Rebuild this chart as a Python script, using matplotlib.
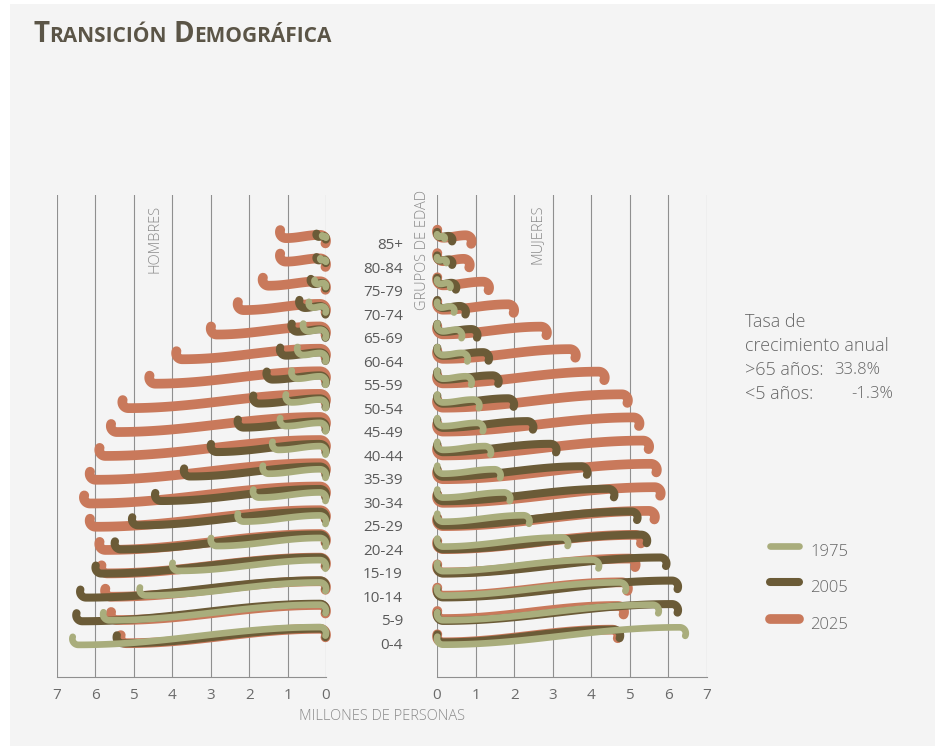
import numpy as np
import matplotlib
matplotlib.use("Agg")
import matplotlib.pyplot as plt
from matplotlib.patches import Rectangle
from matplotlib.lines import Line2D
import matplotlib.transforms as mtrans

plt.rcParams['font.family'] = ['Open Sans', 'DejaVu Sans']

# age groups, bottom (0-4) to top (85+)
ages = ['0-4', '5-9', '10-14', '15-19', '20-24', '25-29', '30-34', '35-39', '40-44',
        '45-49', '50-54', '55-59', '60-64', '65-69', '70-74', '75-79', '80-84', '85+']
years = ['1975', '2005', '2025']

# millions of people
men_1975 = [6.6, 5.8, 4.85, 4.0, 3.0, 2.3, 1.9, 1.65, 1.4, 1.2, 1.05, 0.9, 0.75, 0.6, 0.45, 0.3, 0.15, 0.1]
men_2005 = [5.45, 6.5, 6.4, 6.0, 5.5, 5.05, 4.45, 3.7, 3.0, 2.3, 1.9, 1.55, 1.2, 0.9, 0.7, 0.4, 0.25, 0.25]
men_2025 = [5.35, 5.6, 5.75, 5.85, 5.9, 6.15, 6.3, 6.15, 5.9, 5.6, 5.3, 4.6, 3.9, 3.0, 2.3, 1.65, 1.2, 1.2]

women_1975 = [6.45, 5.75, 4.9, 4.2, 3.4, 2.4, 1.9, 1.65, 1.4, 1.2, 1.1, 0.9, 0.8, 0.65, 0.45, 0.35, 0.25, 0.2]
women_2005 = [4.75, 6.25, 6.25, 5.95, 5.45, 5.2, 4.6, 3.9, 3.1, 2.5, 2.0, 1.6, 1.35, 1.05, 0.75, 0.5, 0.4, 0.4]
women_2025 = [4.7, 4.85, 4.95, 5.15, 5.3, 5.65, 5.8, 5.7, 5.5, 5.25, 4.95, 4.35, 3.6, 2.85, 2.0, 1.35, 0.85, 0.9]

colors = {'1975': '#a9ad7c', '2005': '#6b5b37', '2025': '#c9795b'}
widths = {'1975': 4.8, '2005': 5.8, '2025': 7.0}

W, H = 941, 754
fig = plt.figure(figsize=(W / 100, H / 100), dpi=100)
fig.patch.set_facecolor('white')
fig.patches.append(Rectangle((10 / W, 8 / H), 925 / W, 742 / H, transform=fig.transFigure,
                             facecolor='#f4f4f4', edgecolor='none', zorder=-5))

def px_box(x0, x1, y_top, y_bot):
    return [x0 / W, 1 - y_bot / H, (x1 - x0) / W, (y_bot - y_top) / H]

y_top, y_bot = 195, 677
row0, row_px = 636, 23.5          # pixel row of 0-4 and spacing between groups
ylim = ((row0 - y_bot) / row_px, (row0 - y_top) / row_px)

ax_m = fig.add_axes(px_box(57, 326, y_top, y_bot))
ax_w = fig.add_axes(px_box(437, 707, y_top, y_bot))

for ax in (ax_m, ax_w):
    ax.set_facecolor('none')
    ax.set_ylim(*ylim)
    for s in ('top', 'left', 'right'):
        ax.spines[s].set_visible(False)
    ax.spines['bottom'].set_color('#8f8f8f')
    ax.spines['bottom'].set_linewidth(0.8)
    ax.set_yticks([])
    ax.set_xticks(range(8))
    ax.set_xticklabels([str(i) for i in range(8)])
    ax.tick_params(axis='x', length=0, pad=8, labelsize=11, labelcolor='#6a6a6a')
    for i in range(8):
        ax.axvline(i, color='#8f8f8f', lw=0.8, zorder=1)

ax_m.set_xlim(7, 0)
ax_w.set_xlim(0, 7)


def swoosh(L, r=6.0, rise=0.07):
    # tilde-like stroke in pixels: hook up at the left end, hook down at the right end
    r = min(r, L / 4)
    h = rise * L
    a1 = np.radians(np.linspace(160, 270, 14))
    u1 = r + r * np.cos(a1)
    w1 = r + r * np.sin(a1)
    t = np.linspace(0, 1, 80)
    u2 = r + (L - 2 * r) * t
    w2 = h * (1 - np.cos(np.pi * t)) / 2
    a3 = np.radians(np.linspace(90, -25, 14))
    u3 = L - r + r * np.cos(a3)
    w3 = h - r + r * np.sin(a3)
    u = np.concatenate([u1, u2, u3])
    w = np.concatenate([w1, w2, w3]) - h / 2
    return u, w


men = {'1975': men_1975, '2005': men_2005, '2025': men_2025}
women = {'1975': women_1975, '2005': women_2005, '2025': women_2025}
px_x = 269 / 7

for yr in ['2025', '2005', '1975']:
    for i, v in enumerate(men[yr]):
        u, w = swoosh(v * px_x)
        ax_m.plot(v - u / px_x, i + w / row_px, color=colors[yr], lw=widths[yr],
                  solid_capstyle='round', solid_joinstyle='round', clip_on=False, zorder=3)
    for i, v in enumerate(women[yr]):
        u, w = swoosh(v * px_x)
        ax_w.plot(u / px_x, i + w / row_px, color=colors[yr], lw=widths[yr],
                  solid_capstyle='round', solid_joinstyle='round', clip_on=False, zorder=3)

# age group labels between the panels
trans = mtrans.blended_transform_factory(ax_w.transAxes, ax_w.transData)
for i, a in enumerate(ages):
    ax_w.text(-34 / 270, i - 0.4, a, transform=trans, ha='right', va='center',
              fontsize=11, color='#5a5a5a')

# rotated labels
fig.text(423 / W, 1 - 190 / H, 'GRUPOS DE EDAD', rotation=90, ha='center', va='top',
         fontsize=10.5, color='#8a8a8a', fontweight='light')
fig.text(155 / W, 1 - 205 / H, 'HOMBRES', rotation=90, ha='center', va='top',
         fontsize=10.5, color='#8a8a8a', fontweight='light')
fig.text(537 / W, 1 - 205 / H, 'MUJERES', rotation=90, ha='center', va='top',
         fontsize=10.5, color='#8a8a8a', fontweight='light')
fig.text(382 / W, 1 - 717 / H, 'MILLONES DE PERSONAS', ha='center', va='center',
         fontsize=10.5, color='#8a8a8a', fontweight='light')

# title in small caps
renderer = fig.canvas.get_renderer()
pieces = [('T', 20), ('RANSICIÓN', 15), (' ', 15), ('D', 20), ('EMOGRÁFICA', 15)]
x = 33
for txt, size in pieces:
    if txt == ' ':
        x += 7
        continue
    t = fig.text(x / W, 1 - 42 / H, txt, fontsize=size, fontweight='bold',
                 color='#5b5547', va='baseline', ha='left')
    x += t.get_window_extent(renderer).width

# growth rate note
note_lines = ['Tasa de', 'crecimiento anual', '>65 años:', '<5 años:']
for k, s in enumerate(note_lines):
    fig.text(745 / W, 1 - (322 + 24 * k) / H, s, fontsize=13, color='#666666',
             va='center', ha='left', fontweight='light')
fig.text(834 / W, 1 - 370 / H, '33.8%', fontsize=12, color='#666666', va='center', fontweight='light')
fig.text(851 / W, 1 - 394 / H, '-1.3%', fontsize=12, color='#666666', va='center', fontweight='light')

# legend
leg_y = [546, 582, 619]
for yr, yy in zip(years, leg_y):
    fig.lines.append(Line2D([770 / W, 799 / W], [1 - yy / H, 1 - yy / H], transform=fig.transFigure,
                            color=colors[yr], lw=widths[yr], solid_capstyle='round'))
    fig.text(810 / W, 1 - (yy + 6) / H, yr, fontsize=12, color='#666666', va='center',
             fontweight='light')

fig.savefig('out.png', dpi=100, facecolor=fig.get_facecolor())
